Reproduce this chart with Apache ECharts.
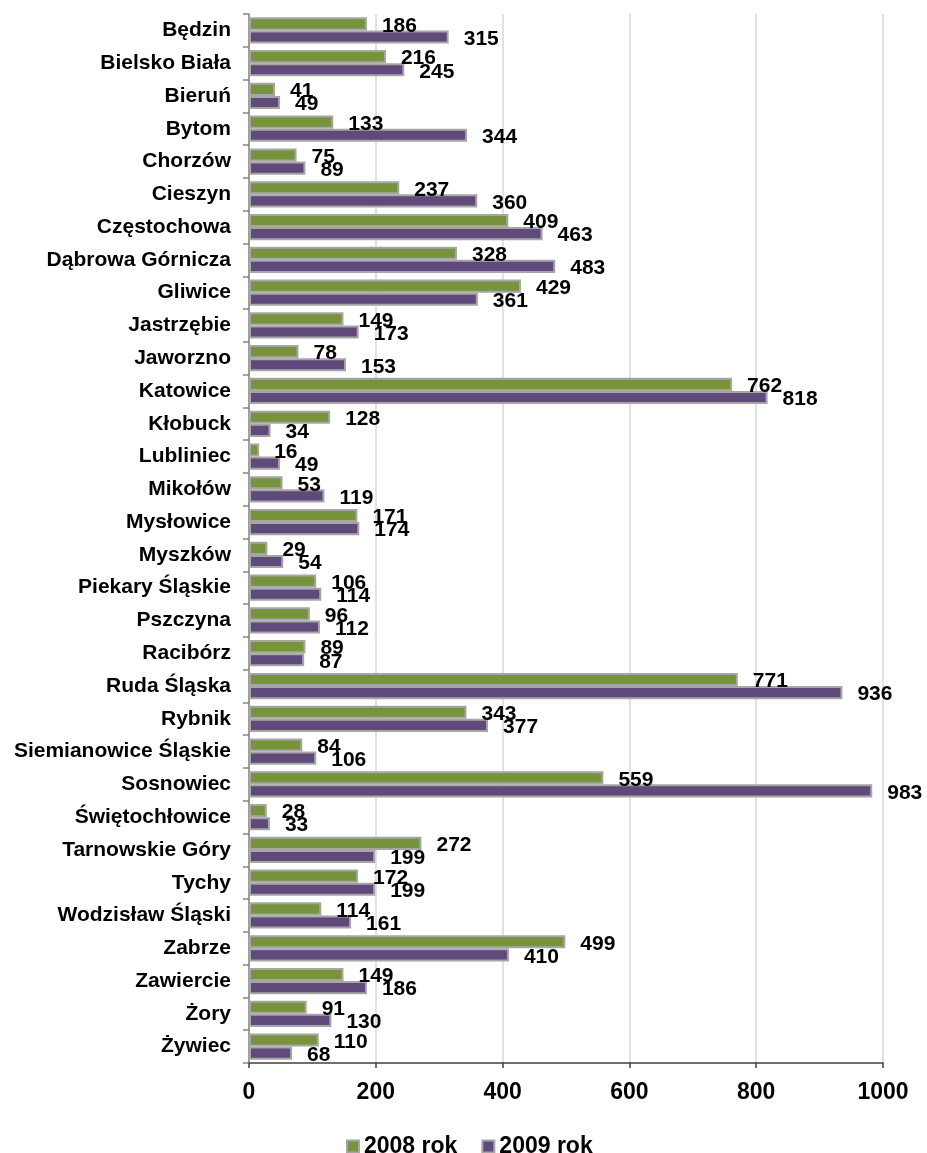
<!DOCTYPE html>
<html>
<head>
<meta charset="utf-8">
<script src="https://cdn.jsdelivr.net/npm/echarts@6/dist/echarts.min.js"></script>
<style>
  html, body { margin: 0; padding: 0; background: #fff; }
  #chart { width: 927px; height: 1153px; }
</style>
</head>
<body>
<div id="chart"></div>
<script>
// Cities (top to bottom) and yearly counts
const cities = ['Będzin', 'Bielsko Biała', 'Bieruń', 'Bytom', 'Chorzów', 'Cieszyn', 'Częstochowa',
  'Dąbrowa Górnicza', 'Gliwice', 'Jastrzębie', 'Jaworzno', 'Katowice', 'Kłobuck', 'Lubliniec',
  'Mikołów', 'Mysłowice', 'Myszków', 'Piekary Śląskie', 'Pszczyna', 'Racibórz', 'Ruda Śląska',
  'Rybnik', 'Siemianowice Śląskie', 'Sosnowiec', 'Świętochłowice', 'Tarnowskie Góry', 'Tychy',
  'Wodzisław Śląski', 'Zabrze', 'Zawiercie', 'Żory', 'Żywiec'];

const values2008 = [186, 216, 41, 133, 75, 237, 409, 328, 429, 149, 78, 762, 128, 16, 53, 171, 29,
  106, 96, 89, 771, 343, 84, 559, 28, 272, 172, 114, 499, 149, 91, 110];

const values2009 = [315, 245, 49, 344, 89, 360, 463, 483, 361, 173, 153, 818, 34, 49, 119, 174, 54,
  114, 112, 87, 936, 377, 106, 983, 33, 199, 199, 161, 410, 186, 130, 68];

const seriesNames = ['2008 rok', '2009 rok'];
const xTicks = [0, 200, 400, 600, 800, 1000];

const FONT = 'Liberation Sans, Arial, sans-serif';
const COLORS = ['#77933C', '#604A7B'];

const chart = echarts.init(document.getElementById('chart'), null, { renderer: 'canvas' });

function barSeries(name, data, color) {
  return {
    name: name,
    type: 'bar',
    data: data,
    barGap: '0%',
    barCategoryGap: '20%',
    itemStyle: { color: color, borderColor: '#A6A6A6', borderWidth: 2 },
    label: {
      show: true,
      position: 'right',
      distance: 15,
      offset: [0, 2],
      formatter: '{c}',
      color: '#000',
      fontFamily: FONT,
      fontWeight: 'bold',
      fontSize: 21
    }
  };
}

chart.setOption({
  animation: false,
  backgroundColor: '#fff',
  textStyle: { fontFamily: FONT },
  grid: { left: 249, right: 44, top: 14, bottom: 90, containLabel: false },
  legend: {
    data: seriesNames,
    left: 341,
    top: 1130,
    icon: 'rect',
    itemWidth: 12,
    itemHeight: 12,
    itemGap: 24,
    textStyle: { fontFamily: FONT, fontWeight: 'bold', fontSize: 23, color: '#000' },
    itemStyle: { borderColor: '#A6A6A6', borderWidth: 2 }
  },
  xAxis: {
    type: 'value',
    min: xTicks[0],
    max: xTicks[xTicks.length - 1],
    interval: xTicks[1] - xTicks[0],
    axisLine: { show: true, lineStyle: { color: '#404040', width: 1.5 } },
    axisTick: { show: true, length: 5, lineStyle: { color: '#404040', width: 1.5 } },
    splitLine: { show: true, lineStyle: { color: '#D9D9D9', width: 1.5 } },
    axisLabel: {
      margin: 18,
      color: '#000',
      fontFamily: FONT,
      fontWeight: 'bold',
      fontSize: 23,
      formatter: function (v) { return String(v); }
    }
  },
  yAxis: {
    type: 'category',
    data: cities,
    inverse: true,
    axisLine: { show: true, lineStyle: { color: '#868686', width: 1.5 } },
    axisTick: { show: true, length: 6, alignWithLabel: false, lineStyle: { color: '#868686', width: 1.5 } },
    splitLine: { show: false },
    axisLabel: {
      margin: 18,
      interval: 0,
      color: '#000',
      fontFamily: FONT,
      fontWeight: 'bold',
      fontSize: 21
    }
  },
  series: [
    barSeries(seriesNames[0], values2008, COLORS[0]),
    barSeries(seriesNames[1], values2009, COLORS[1])
  ]
});
</script>
</body>
</html>
